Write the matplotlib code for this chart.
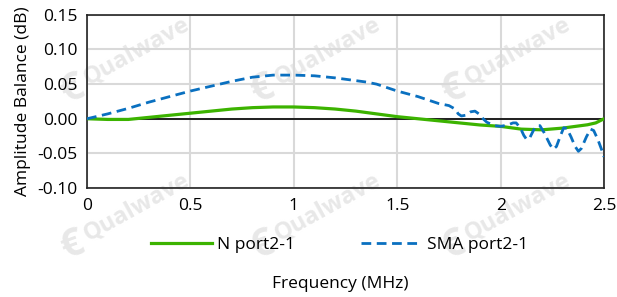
import matplotlib.pyplot as plt
import numpy as np

plt.rcParams['font.family'] = ['Open Sans', 'DejaVu Sans']

freq_n = [0.0, 0.1, 0.2, 0.3, 0.4, 0.5, 0.6, 0.7, 0.8, 0.9, 1.0, 1.1, 1.2, 1.3,
          1.4, 1.5, 1.6, 1.7, 1.8, 1.9, 2.0, 2.1, 2.2, 2.3, 2.42, 2.46, 2.5]
bal_n = [0.000, -0.001, -0.001, 0.002, 0.005, 0.008, 0.011, 0.014, 0.016, 0.017,
         0.017, 0.016, 0.014, 0.011, 0.007, 0.003, 0.000, -0.003, -0.006, -0.009,
         -0.011, -0.015, -0.016, -0.0135, -0.0087, -0.006, 0.000]

freq_sma = [0.0, 0.1, 0.2, 0.3, 0.4, 0.5, 0.6, 0.7, 0.8, 0.9, 1.0, 1.1, 1.2, 1.3,
            1.35, 1.4, 1.45, 1.5, 1.55, 1.6, 1.65, 1.7, 1.75, 1.78, 1.795, 1.81,
            1.83, 1.855, 1.876, 1.895, 1.915, 1.933, 1.97, 2.0, 2.035, 2.06, 2.075,
            2.095, 2.112, 2.126, 2.14, 2.16, 2.175, 2.19, 2.21, 2.24, 2.255, 2.27,
            2.29, 2.305, 2.32, 2.34, 2.36, 2.376, 2.39, 2.415, 2.435, 2.45, 2.47,
            2.49, 2.5]
bal_sma = [0.000, 0.007, 0.015, 0.024, 0.032, 0.040, 0.047, 0.054, 0.060, 0.063,
           0.063, 0.062, 0.059, 0.055, 0.053, 0.050, 0.045, 0.040, 0.036, 0.032,
           0.027, 0.022, 0.019, 0.014, 0.007, 0.004, 0.005, 0.010, 0.011, 0.007,
           0.000, -0.005, -0.010, -0.011, -0.009, -0.006, -0.006, -0.013, -0.024,
           -0.030, -0.028, -0.016, -0.010, -0.010, -0.020, -0.038, -0.044, -0.040,
           -0.024, -0.013, -0.014, -0.026, -0.040, -0.047, -0.043, -0.026, -0.015,
           -0.017, -0.030, -0.046, -0.055]

xticks = [0, 0.5, 1, 1.5, 2, 2.5]
xticklabels = ['0', '0.5', '1', '1.5', '2', '2.5']
yticks = [-0.10, -0.05, 0.00, 0.05, 0.10, 0.15]

fig = plt.figure(figsize=(6.17, 2.97), dpi=100)
ax = fig.add_axes([0.141, 0.367, 0.838, 0.583])
ax.patch.set_alpha(0)

# watermark behind the axes
for lx in [0.117, 0.426, 0.735]:
    for ly in [0.70, 0.175]:
        fig.text(lx, ly, '€', fontsize=28, fontweight='bold', color='#e8e8e8',
                 rotation=20, ha='center', va='center', zorder=-2)
        fig.text(lx + 0.03, ly - 0.005, 'Qualwave', fontsize=17, fontweight='bold',
                 color='#e8e8e8', rotation=29, ha='left', va='bottom',
                 rotation_mode='anchor', zorder=-2)

ax.plot(freq_n, bal_n, color='#3cb300', lw=2.3, label='N port2-1', zorder=3)
ax.plot(freq_sma, bal_sma, color='#0a70c0', lw=2.0, dashes=(3.5, 2),
        label='SMA port2-1', zorder=4)
ax.axhline(0, color='black', lw=1.2, zorder=2)

ax.set_xlim(0, 2.5)
ax.set_ylim(-0.10, 0.15)
ax.set_xticks(xticks)
ax.set_xticklabels(xticklabels)
ax.set_yticks(yticks)
ax.set_yticklabels(['%.2f' % v for v in yticks])
ax.tick_params(length=0, labelsize=12.5, pad=7)
ax.grid(True, color='#d9d9d9', lw=1.5)
ax.set_axisbelow(True)
for s in ax.spines.values():
    s.set_color('#222222')
    s.set_linewidth(1.2)

ax.set_ylabel('Amplitude Balance (dB)', fontsize=12.5, labelpad=4)
fig.text(0.551, 0.045, 'Frequency (MHz)', fontsize=12.5, ha='center', va='center')
ax.legend(loc='center', bbox_to_anchor=(0.551, 0.175), bbox_transform=fig.transFigure,
          ncol=2, frameon=False, fontsize=12.5, handlelength=3.5, columnspacing=3.8,
          handletextpad=0.3)

fig.savefig('out.png', dpi=100)
